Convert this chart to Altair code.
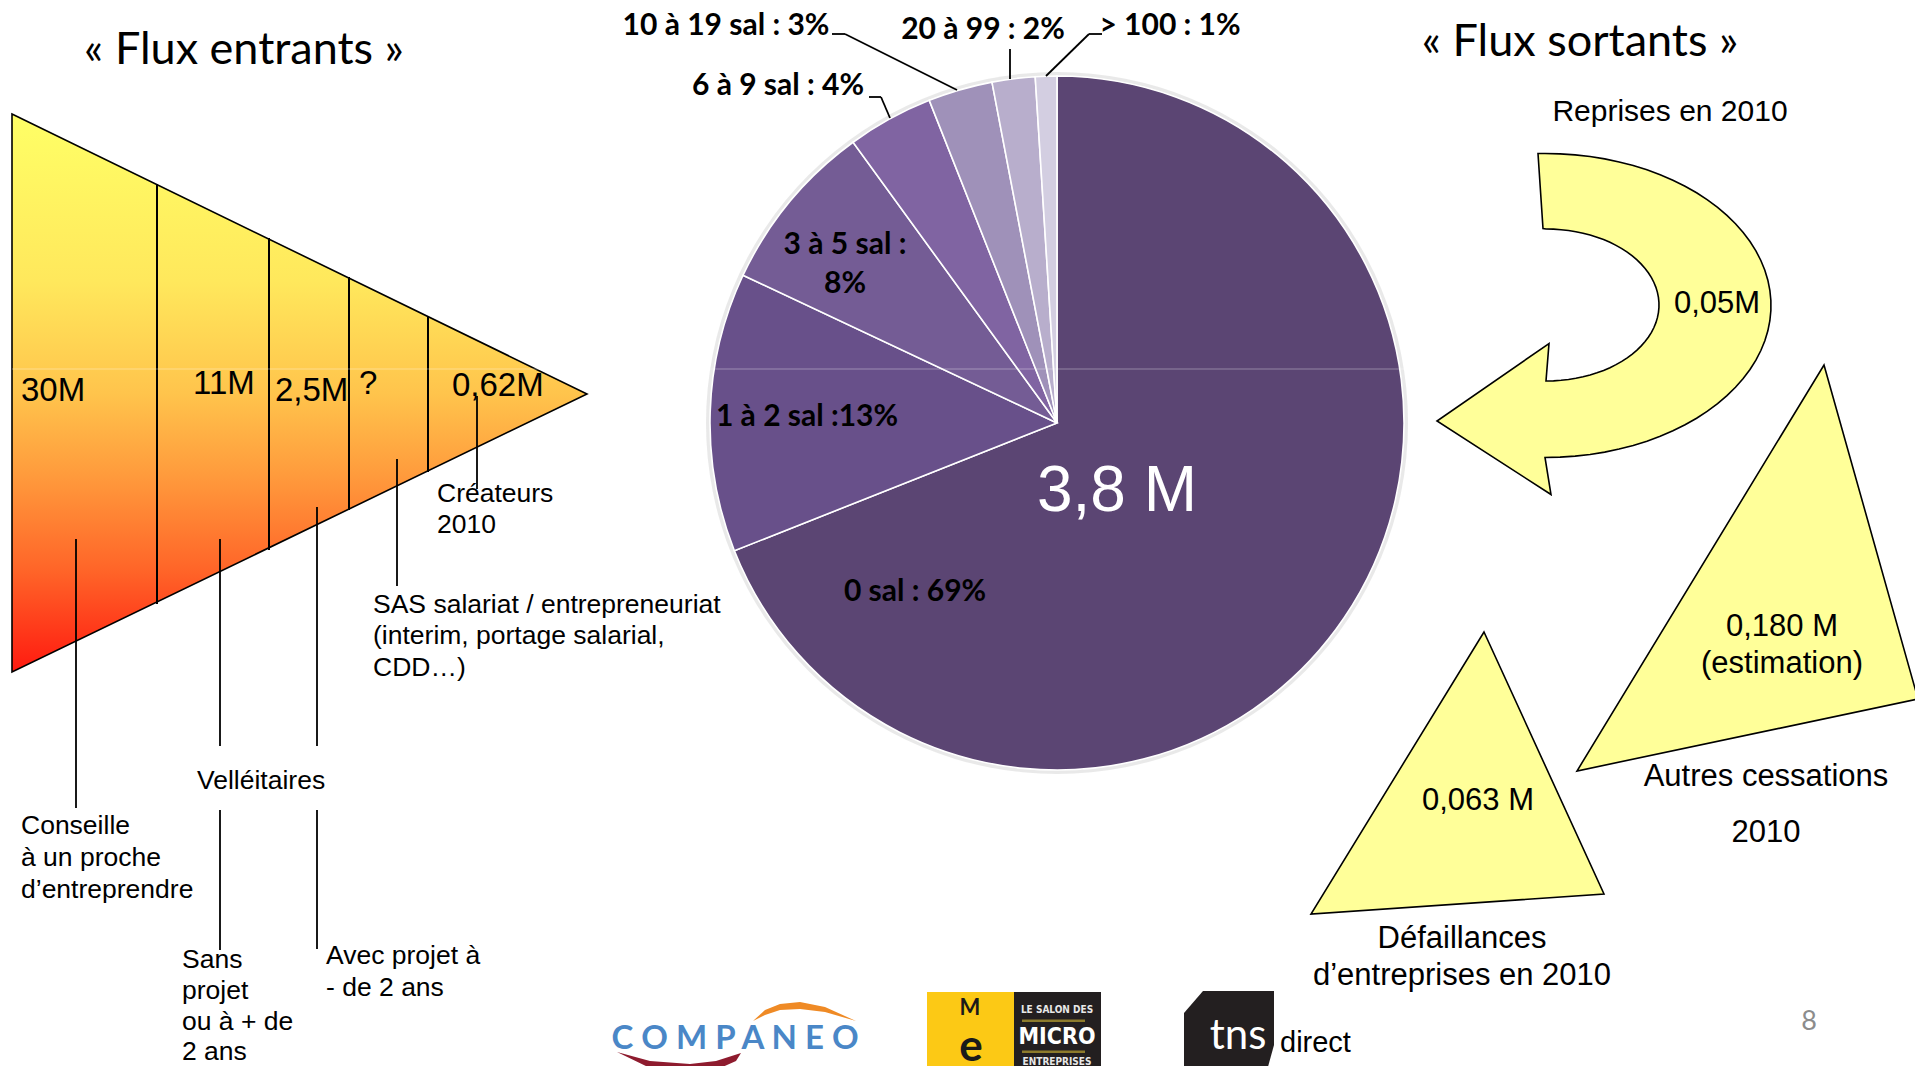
import math
import numpy as np
import pandas as pd
import altair as alt

# ------------------------------------------------------------------ data
# Pie: stock of companies by number of employees (share, %)
PIE_CATEGORIES = ["0 sal", "1 à 2 sal", "3 à 5 sal", "6 à 9 sal", "10 à 19 sal", "20 à 99", "> 100"]
PIE_SHARES = [69, 13, 8, 4, 3, 2, 1]
PIE_COLORS = ["#5B4573", "#68508A", "#745C95", "#8064A2", "#9F91B9", "#B8AECC", "#D3CEE1"]
PIE_TOTAL = "3,8 M"
PIE_LABELS = ["10 à 19 sal : 3%", "20 à 99 : 2%", "> 100 : 1%", "6 à 9 sal : 4%",
              "3 à 5 sal :", "8%", "1 à 2 sal :13%", "0 sal : 69%"]

# Funnel ("Flux entrants")
FUNNEL_VALUES = ["30M", "11M", "2,5M", "?", "0,62M"]
FUNNEL_LABELS = ["Créateurs", "2010",
                 "SAS salariat / entrepreneuriat", "(interim, portage salarial,", "CDD…)",
                 "Velléitaires",
                 "Conseille", "à un proche", "d’entreprendre",
                 "Sans", "projet", "ou à + de", "2 ans",
                 "Avec projet à", "- de 2 ans"]

# "Flux sortants"
OUT_LABELS = ["Reprises en 2010", "0,05M", "0,180 M", "(estimation)",
              "Autres cessations", "2010", "0,063 M", "Défaillances", "d’entreprises en 2010"]
TITLES = ["« Flux entrants »", "« Flux sortants »"]

# ------------------------------------------------------------------ layout (reference pixels)
W, H = 1907, 1058
XS = alt.Scale(domain=[8, 1915], nice=False, zero=False)
YS = alt.Scale(domain=[8, 1066], nice=False, zero=False, reverse=True)
PROJ = dict(type="identity", scale=1, translate=[-8, -8])

PIE_CENTER = (1057, 423)
PIE_R = 347
PIE_LABEL_X = [726, 983, 1170, 778, 845, 845, 807, 915]
PIE_LABEL_Y = [26, 30, 26, 86, 245, 284, 417, 592]

FUNNEL_VALUE_X = [21, 193, 275, 359, 452]
FUNNEL_VALUE_Y = [391, 384, 391, 384, 386]
FUNNEL_LABEL_X = [437, 437, 373, 373, 373, 197, 21, 21, 21, 182, 182, 182, 182, 326, 326]
FUNNEL_LABEL_Y = [494, 525, 605, 636, 668, 781, 826, 858, 890, 960, 991, 1022, 1052, 956, 988]

OUT_X = [1670, 1717, 1782, 1782, 1766, 1766, 1478, 1462, 1462]
OUT_Y = [112, 304, 627, 664, 777, 833, 801, 939, 976]
OUT_SIZE = [30, 31, 31, 31, 31, 31, 31, 31, 31]

TITLE_X = [244, 1580]
TITLE_Y = [50, 42]


def X(f):
    return alt.X(f, type="quantitative", scale=XS, axis=None)


def Y(f):
    return alt.Y(f, type="quantitative", scale=YS, axis=None)


def poly(ring, fill=None):
    ring = [[float(a), float(b)] for a, b in ring]
    if ring[0] != ring[-1]:
        ring.append(ring[0])
    return {"type": "Feature", "geometry": {"type": "Polygon", "coordinates": [ring]},
            "properties": {"fill": fill or "#000000"}}


def text_layer(texts, xs, ys, **kw):
    df = pd.DataFrame({"t": texts, "x": xs, "y": ys})
    base = dict(baseline="middle")
    base.update(kw)
    return alt.Chart(df).mark_text(**base).encode(x=X("x"), y=Y("y"), text="t:N")


def rule_layer(segs, **kw):
    df = pd.DataFrame(segs, columns=["x", "y", "x2", "y2"])
    return alt.Chart(df).mark_rule(**kw).encode(x=X("x"), y=Y("y"), x2=alt.X2("x2"), y2=alt.Y2("y2"))


# ------------------------------------------------------------------ shapes
FUNNEL_TRI = [[12, 114], [587, 394], [12, 672]]
funnel = alt.Chart(alt.Data(values=[poly(FUNNEL_TRI)])).mark_geoshape(
    fill=alt.Gradient(gradient="linear", x1=0, x2=0, y1=0, y2=1, stops=[
        alt.GradientStop(color="#FFFF66", offset=0),
        alt.GradientStop(color="#FFE85C", offset=0.3),
        alt.GradientStop(color="#FFC44C", offset=0.5),
        alt.GradientStop(color="#FF9A3C", offset=0.65),
        alt.GradientStop(color="#FF6428", offset=0.82),
        alt.GradientStop(color="#FF1A10", offset=1)]),
    stroke="#000000", strokeWidth=1.6).project(**PROJ)


def half_ellipse(cx, cy, a, b, start, end, n=48):
    t = np.radians(np.linspace(start, end, n))
    return [[cx + a * math.cos(v), cy + b * math.sin(v)] for v in t]


ARROW = ([[1538, 153.5]] + half_ellipse(1545, 305.5, 226, 152, -90, 90)
         + [[1551, 494.5], [1437, 421], [1549, 343.5]]
         + half_ellipse(1546, 305, 113, 76, 90, -90) + [[1543, 228.5]])
TRI_AUTRES = [[1824, 365], [1918, 699], [1577, 771]]
TRI_DEFAIL = [[1484, 632], [1604, 894], [1311, 914]]
yellow = alt.Chart(alt.Data(values=[poly(ARROW), poly(TRI_AUTRES), poly(TRI_DEFAIL)])).mark_geoshape(
    fill="#FFFF99", stroke="#000000", strokeWidth=1.6).project(**PROJ)

# ------------------------------------------------------------------ rules
FUNNEL_DIVIDERS = [(157, 184, 157, 604), (269, 238, 269, 550), (349, 277, 349, 510), (428, 316, 428, 472)]
CALLOUTS = [(76, 539, 76, 808), (220, 539, 220, 746), (220, 810, 220, 950),
            (317, 507, 317, 746), (317, 810, 317, 949), (397, 459, 397, 586), (477, 396, 477, 489)]
PIE_LEADERS = [(832, 34, 845, 34), (845, 34, 957, 90), (1010, 49, 1010, 79),
               (1102, 34, 1089, 34), (1089, 34, 1046, 76), (869, 97, 881, 97), (881, 97, 890, 118)]
FAINT = [(12, 369, 1405, 369)]

rules = [
    rule_layer(FUNNEL_DIVIDERS, color="#000000", strokeWidth=2),
    rule_layer(CALLOUTS, color="#000000", strokeWidth=1.8),
]

# ------------------------------------------------------------------ pie
pie_df = pd.DataFrame({"cat": PIE_CATEGORIES, "share": PIE_SHARES, "idx": list(range(len(PIE_SHARES)))})
pie_df["cx"] = PIE_CENTER[0]
pie_df["cy"] = PIE_CENTER[1]
shadow = alt.Chart(pie_df.head(1)).mark_arc(
    theta=0, theta2=2 * math.pi, outerRadius=PIE_R + 4, fill="#E3E3E3", opacity=0.8
).encode(x=X("cx"), y=Y("cy"))
pie = alt.Chart(pie_df).mark_arc(outerRadius=PIE_R, stroke="#FFFFFF", strokeWidth=1.6).encode(
    x=X("cx"), y=Y("cy"),
    theta=alt.Theta("share:Q", stack=True),
    order=alt.Order("idx:Q"),
    color=alt.Color("cat:N", scale=alt.Scale(domain=PIE_CATEGORIES, range=PIE_COLORS), legend=None),
)
pie_labels = text_layer(PIE_LABELS, PIE_LABEL_X, PIE_LABEL_Y, align="center", font="Lato",
                        fontWeight="bold", fontSize=30, color="#000000")
pie_total = text_layer([PIE_TOTAL], [1117], [492], align="center", font="Liberation Sans",
                       fontSize=64, color="#FFFFFF")
faint = rule_layer(FAINT, color="#FFFFFF", strokeWidth=1, opacity=0.35)
leaders = rule_layer(PIE_LEADERS, color="#000000", strokeWidth=1.8)

# ------------------------------------------------------------------ texts
titles = text_layer(TITLES, TITLE_X, TITLE_Y, align="center", font="Lato", fontSize=45, color="#000000")
f_values = text_layer(FUNNEL_VALUES, FUNNEL_VALUE_X, FUNNEL_VALUE_Y, align="left",
                      font="Liberation Sans", fontSize=33, color="#000000")
f_labels = text_layer(FUNNEL_LABELS, FUNNEL_LABEL_X, FUNNEL_LABEL_Y, align="left",
                      font="Liberation Sans", fontSize=26.5, color="#000000")
out_df = pd.DataFrame({"t": OUT_LABELS, "x": OUT_X, "y": OUT_Y, "s": OUT_SIZE})
out_texts = alt.Chart(out_df).mark_text(align="center", baseline="middle", font="Liberation Sans",
                                        color="#000000").encode(
    x=X("x"), y=Y("y"), text="t:N", size=alt.Size("s:Q", scale=None))
page = text_layer(["8"], [1809], [1022], align="center", font="Lato", fontSize=27, color="#8C8C8C")

# ------------------------------------------------------------------ logos
LOGO_SHAPES = [
    poly([[753, 1021], [765, 1010], [780, 1004], [800, 1002], [825, 1007], [856, 1021],
          [825, 1012], [800, 1009], [780, 1010], [765, 1015]], "#EF8A25"),
    poly([[617, 1052], [650, 1061], [690, 1064], [716, 1061], [741, 1053],
          [736, 1061], [718, 1069], [690, 1073], [650, 1068]], "#8E1B2E"),
    poly([[927, 992], [1014, 992], [1014, 1074], [927, 1074]], "#FCC915"),
    poly([[1014, 992], [1101, 992], [1101, 1074], [1014, 1074]], "#231F20"),
    poly([[1022, 1019.5], [1085, 1019.5], [1085, 1022], [1022, 1022]], "#8D7B2C"),
    poly([[1022, 1050.5], [1085, 1050.5], [1085, 1053], [1022, 1053]], "#8D7B2C"),
    poly([[1203, 991], [1274, 991], [1274, 1045], [1266, 1074], [1184, 1074], [1184, 1013]], "#231F20"),
]
logo_shapes = alt.Chart(alt.Data(values=LOGO_SHAPES)).mark_geoshape(strokeWidth=0).encode(
    fill=alt.Color("properties.fill:N", scale=None)).project(**PROJ)
companeo = text_layer(["C O M P A N E O"], [735], [1039], align="center", font="Lato",
                      fontWeight="bold", fontSize=33, color="#4A87C7")
micro_small = text_layer(["LE SALON DES", "ENTREPRISES"], [1057, 1057], [1010, 1062], align="center",
                         font="DejaVu Sans Condensed, Liberation Sans Narrow, Liberation Sans",
                         fontWeight="bold", fontSize=10, color="#E8E8E8")
micro_big = text_layer(["MICRO"], [1057], [1037], align="center",
                       font="DejaVu Sans Condensed, Liberation Sans Narrow, Liberation Sans",
                       fontWeight="bold", fontSize=23, color="#FFFFFF")
micro_e = text_layer(["e"], [971], [1048], align="center", font="Lato", fontWeight="bold",
                     fontSize=44, color="#1A1A1A")
micro_m = text_layer(["M"], [970], [1008], align="center", font="Lato", fontWeight="bold",
                     fontSize=22, color="#1A1A1A")
tns = text_layer(["tns"], [1238], [1036], align="center", font="Lato", fontSize=42, color="#FFFFFF")
direct = text_layer(["direct"], [1280], [1043], align="left",
                    font="Liberation Sans Narrow, Liberation Sans", fontSize=29, color="#000000")

chart = alt.layer(
    funnel, yellow, *rules, shadow, pie, faint, leaders,
    titles, f_values, f_labels, pie_labels, pie_total, out_texts, page,
    logo_shapes, companeo, micro_small, micro_big, micro_m, micro_e, tns, direct,
).properties(
    width=W, height=H, padding=0, autosize=alt.AutoSizeParams(type="none"),
).configure_view(stroke=None)

chart.save("out.html", embed_options={"renderer": "svg", "actions": False})
